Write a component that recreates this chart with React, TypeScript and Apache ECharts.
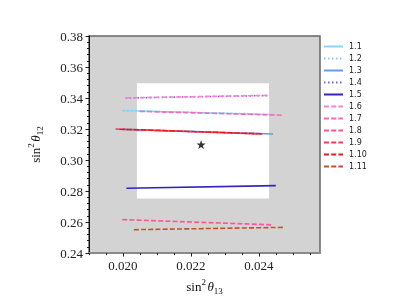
import React, { useEffect, useRef } from "react";
import * as echarts from "echarts";

const seriesNames = ["1.1", "1.2", "1.3", "1.4", "1.5", "1.6", "1.7", "1.8", "1.9", "1.10", "1.11"];
const seriesColors = ["#8ad6f6", "#87cefa", "#5f9ff0", "#6666ee", "#3224bd", "#ff80d2", "#ff66b8", "#ff5596", "#f23c5a", "#e31c22", "#c5502c"];
const seriesDash = ["solid", "dotted", "solid", "dotted", "solid", "dashed", "dashed", "dashed", "dashed", "dashed", "dashed"];
const xStart = [0.01997, 0.0200, 0.0200, 0.02008, 0.0201, 0.02008, 0.0205, 0.01998, 0.01978, 0.0199, 0.02032];
const xEnd = [0.0245, 0.0240, 0.02442, 0.0243, 0.0245, 0.0243, 0.02474, 0.0244, 0.0241, 0.0241, 0.02475];
const yStart = [0.3320, 0.3318, 0.3198, 0.3400, 0.2818, 0.3401, 0.3314, 0.2616, 0.3200, 0.3199, 0.2551];
const yEnd = [0.3292, 0.3297, 0.3168, 0.3416, 0.2835, 0.3417, 0.3289, 0.2582, 0.3168, 0.3169, 0.2566];
const bestFit = [0.0223, 0.3100];
const boxX = [0.02041, 0.0243];
const boxY = [0.2752, 0.3495];
const xMajorTicks = [0.020, 0.022, 0.024];
const xMinorTicks = [0.0190, 0.0195, 0.0205, 0.0210, 0.0215, 0.0225, 0.0230, 0.0235, 0.0245, 0.0250, 0.0255];
const yTicks = [0.24, 0.26, 0.28, 0.30, 0.32, 0.34, 0.36, 0.38];

const STAR = "path://M50,0 L61.8,35.1 L97.6,34.5 L69.1,56.7 L79.4,90.5 L50,70 L20.6,90.5 L30.9,56.7 L2.4,34.5 L38.2,35.1 Z";

function dashOf(t: string): any {
  if (t === "dotted") return [1.5, 2.5];
  if (t === "dashed") return [5, 2.2];
  return "solid";
}

const serif = "Liberation Serif";

function axisName(sub: string) {
  return {
    text: `{n|sin}{sup|2}{sp| }{t|θ}{sub|${sub}}`,
    rich: {
      n: { fontFamily: serif, fontSize: 13, lineHeight: 18, color: "#111", verticalAlign: "middle" },
      sup: { fontFamily: serif, fontSize: 9, lineHeight: 9, color: "#111", verticalAlign: "top" },
      sp: { fontFamily: serif, fontSize: 6, lineHeight: 18, verticalAlign: "middle" },
      t: { fontFamily: serif, fontSize: 13, lineHeight: 18, fontStyle: "italic", color: "#111", verticalAlign: "middle" },
      sub: { fontFamily: serif, fontSize: 9, lineHeight: 9, color: "#111", verticalAlign: "bottom" },
    },
  };
}

export default function App() {
  const ref = useRef<HTMLDivElement>(null);
  useEffect(() => {
    if (!ref.current) return;
    const chart = echarts.init(ref.current, undefined, { renderer: "svg" });
    const xn = axisName("13");
    const yn = axisName("12");
    const lineSeries = seriesNames.map((name, i) => ({
      name,
      type: "line",
      z: 3,
      symbol: "none",
      showSymbol: false,
      data: [
        [xStart[i], yStart[i]],
        [xEnd[i], yEnd[i]],
      ],
      lineStyle: { color: seriesColors[i], width: 1.6, type: dashOf(seriesDash[i]) },
      itemStyle: { color: seriesColors[i] },
    }));
    chart.setOption({
      animation: false,
      grid: {
        left: 89,
        top: 36,
        right: 80,
        bottom: 33,
        show: true,
        backgroundColor: "#d3d3d3",
        borderColor: "#666666",
        borderWidth: 1.5,
      },
      legend: {
        orient: "vertical",
        left: 323,
        top: 42.5,
        padding: 0,
        itemWidth: 19,
        itemHeight: 8,
        itemGap: 4,
        data: seriesNames,
        itemStyle: { opacity: 0, borderWidth: 0 },
        textStyle: { fontFamily: "DejaVu Sans", fontSize: 8, color: "#222", lineHeight: 8, padding: [0, 0, 0, 1] },
      },
      xAxis: [
        {
          type: "value",
          min: 0.019,
          max: 0.0258,
          splitLine: { show: false },
          axisLine: { show: true, onZero: false, lineStyle: { color: "#8a8a8a", width: 2 } },
          axisTick: { show: true, customValues: xMajorTicks, length: 3.5, lineStyle: { color: "#222" } },
          axisLabel: {
            customValues: xMajorTicks,
            formatter: (v: number) => v.toFixed(3),
            fontFamily: serif,
            fontSize: 13,
            color: "#222",
            margin: 6,
          },
          name: xn.text,
          nameLocation: "middle",
          nameGap: 16,
          nameTextStyle: { rich: xn.rich, verticalAlign: "top" },
        },
        {
          type: "value",
          min: 0.019,
          max: 0.0258,
          position: "bottom",
          splitLine: { show: false },
          axisLine: { show: false },
          axisTick: { show: true, customValues: xMinorTicks, length: 2, lineStyle: { color: "#222" } },
          axisLabel: { show: false },
        },
      ],
      yAxis: {
        type: "value",
        min: 0.24,
        max: 0.38,
        splitLine: { show: false },
        axisLine: { show: true, onZero: false, lineStyle: { color: "#111", width: 1 } },
        axisTick: { show: true, customValues: yTicks, length: 3.5, lineStyle: { color: "#222" } },
        minorTick: { show: true, splitNumber: 5, length: 2, lineStyle: { color: "#222" } },
        interval: 0.02,
        axisLabel: {
          customValues: yTicks,
          formatter: (v: number) => v.toFixed(2),
          fontFamily: serif,
          fontSize: 13,
          color: "#222",
          margin: 6,
        },
        name: yn.text,
        nameLocation: "middle",
        nameRotate: 90,
        nameGap: 45,
        nameTextStyle: { rich: yn.rich },
      },
      series: [
        {
          name: "box",
          type: "line",
          z: 1,
          symbol: "none",
          data: [],
          markArea: {
            silent: true,
            itemStyle: { color: "#ffffff", opacity: 1 },
            data: [[{ coord: [boxX[0], boxY[1]] }, { coord: [boxX[1], boxY[0]] }]],
          },
        },
        ...lineSeries,
        {
          name: "best",
          type: "scatter",
          z: 4,
          symbol: STAR,
          symbolSize: 9,
          itemStyle: { color: "#000" },
          data: [bestFit],
        },
      ],
    });
    return () => chart.dispose();
  }, []);
  return <div ref={ref} style={{ position: "fixed", left: 0, top: 0, width: 400, height: 300 }} />;
}
